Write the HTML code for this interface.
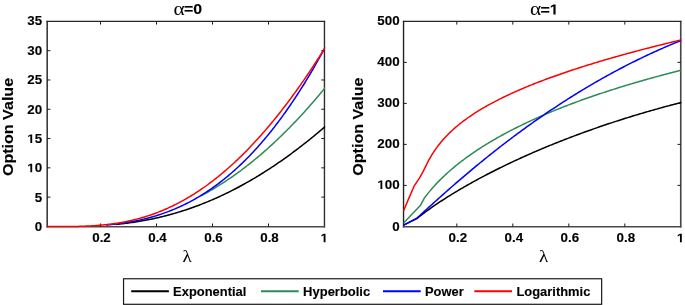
<!DOCTYPE html>
<html><head><meta charset="utf-8"><title>Option Value</title>
<style>
html,body{margin:0;padding:0;background:#fff;}
body{width:685px;height:305px;overflow:hidden;}
svg{display:block;will-change:transform;}
text{font-family:"Liberation Sans",sans-serif;font-weight:bold;fill:#000;stroke:#000;stroke-width:0.12px;}
.tk{font-size:12.5px;}
.tt{font-size:14.6px;}
.sym{font-family:"Liberation Serif",serif;font-weight:normal;font-size:18.5px;stroke:none;}
.xl{font-family:"Liberation Serif",serif;font-weight:normal;font-size:16.5px;stroke:none;}
.yl{font-size:14.5px;}
.lg{font-size:12.2px;}
</style></head><body>
<svg width="685" height="305" viewBox="0 0 685 305">
<rect width="685" height="305" fill="#fff"/>
<path d="M47.20,20.82 V227.49" stroke="#3b3b3b" stroke-width="1.61"/>
<path d="M324.46,20.82 V227.49" stroke="#2e2e2e" stroke-width="1.4"/>
<path d="M46.50,21.42 H325.16" stroke="#262626" stroke-width="1.32"/>
<path d="M46.50,226.69 H325.16" stroke="#4a4a4a" stroke-width="1.6"/>
<path d="M100.50,226.69 v-3.2 M100.50,21.42 v3.2" stroke="#1a1a1a" stroke-width="1"/>
<text transform="translate(101.50,242.30) scale(1.07,1)" text-anchor="middle" class="tk">0.2</text>
<path d="M156.50,226.69 v-3.2 M156.50,21.42 v3.2" stroke="#1a1a1a" stroke-width="1"/>
<text transform="translate(157.50,242.30) scale(1.07,1)" text-anchor="middle" class="tk">0.4</text>
<path d="M212.50,226.69 v-3.2 M212.50,21.42 v3.2" stroke="#1a1a1a" stroke-width="1"/>
<text transform="translate(213.50,242.30) scale(1.07,1)" text-anchor="middle" class="tk">0.6</text>
<path d="M268.50,226.69 v-3.2 M268.50,21.42 v3.2" stroke="#1a1a1a" stroke-width="1"/>
<text transform="translate(269.50,242.30) scale(1.07,1)" text-anchor="middle" class="tk">0.8</text>
<path d="M323.65,242.30 L323.65,235.16 L321.45,236.45 L321.45,235.10 L323.75,233.70 L325.49,233.70 L325.49,242.30Z" fill="#000"/>
<text transform="translate(42.10,230.85) scale(1.07,1)" text-anchor="end" class="tk">0</text>
<path d="M47.2,197.11 h3.2 M324.46,197.11 h-3.2" stroke="#1a1a1a" stroke-width="1"/>
<text transform="translate(42.10,201.56) scale(1.07,1)" text-anchor="end" class="tk">5</text>
<path d="M47.2,167.83 h3.2 M324.46,167.83 h-3.2" stroke="#1a1a1a" stroke-width="1"/>
<path d="M30.34,172.28 L30.34,165.14 L28.14,166.43 L28.14,165.08 L30.44,163.68 L32.18,163.68 L32.18,172.28Z" fill="#000"/>
<text transform="translate(34.66,172.28) scale(1.07,1)" text-anchor="start" class="tk">0</text>
<path d="M47.2,138.54 h3.2 M324.46,138.54 h-3.2" stroke="#1a1a1a" stroke-width="1"/>
<path d="M30.34,142.99 L30.34,135.85 L28.14,137.14 L28.14,135.79 L30.44,134.39 L32.18,134.39 L32.18,142.99Z" fill="#000"/>
<text transform="translate(34.66,142.99) scale(1.07,1)" text-anchor="start" class="tk">5</text>
<path d="M47.2,109.26 h3.2 M324.46,109.26 h-3.2" stroke="#1a1a1a" stroke-width="1"/>
<text transform="translate(42.10,113.71) scale(1.07,1)" text-anchor="end" class="tk">20</text>
<path d="M47.2,79.97 h3.2 M324.46,79.97 h-3.2" stroke="#1a1a1a" stroke-width="1"/>
<text transform="translate(42.10,84.42) scale(1.07,1)" text-anchor="end" class="tk">25</text>
<path d="M47.2,50.69 h3.2 M324.46,50.69 h-3.2" stroke="#1a1a1a" stroke-width="1"/>
<text transform="translate(42.10,55.14) scale(1.07,1)" text-anchor="end" class="tk">30</text>
<text transform="translate(42.10,25.05) scale(1.07,1)" text-anchor="end" class="tk">35</text>
<path d="M403.54,20.82 V227.49" stroke="#212121" stroke-width="1.38"/>
<path d="M680.74,20.82 V227.49" stroke="#454545" stroke-width="1.62"/>
<path d="M402.84,21.42 H681.44" stroke="#262626" stroke-width="1.32"/>
<path d="M402.84,226.69 H681.44" stroke="#4a4a4a" stroke-width="1.6"/>
<path d="M456.80,226.69 v-3.2 M456.80,21.42 v3.2" stroke="#1a1a1a" stroke-width="1"/>
<text transform="translate(457.80,242.30) scale(1.07,1)" text-anchor="middle" class="tk">0.2</text>
<path d="M512.80,226.69 v-3.2 M512.80,21.42 v3.2" stroke="#1a1a1a" stroke-width="1"/>
<text transform="translate(513.80,242.30) scale(1.07,1)" text-anchor="middle" class="tk">0.4</text>
<path d="M568.80,226.69 v-3.2 M568.80,21.42 v3.2" stroke="#1a1a1a" stroke-width="1"/>
<text transform="translate(569.80,242.30) scale(1.07,1)" text-anchor="middle" class="tk">0.6</text>
<path d="M624.80,226.69 v-3.2 M624.80,21.42 v3.2" stroke="#1a1a1a" stroke-width="1"/>
<text transform="translate(625.80,242.30) scale(1.07,1)" text-anchor="middle" class="tk">0.8</text>
<path d="M679.95,242.30 L679.95,235.16 L677.75,236.45 L677.75,235.10 L680.05,233.70 L681.79,233.70 L681.79,242.30Z" fill="#000"/>
<text transform="translate(399.65,230.85) scale(1.07,1)" text-anchor="end" class="tk">0</text>
<path d="M403.54,185.40 h3.2 M680.74,185.40 h-3.2" stroke="#1a1a1a" stroke-width="1"/>
<path d="M380.46,189.05 L380.46,181.91 L378.25,183.20 L378.25,181.85 L380.55,180.45 L382.29,180.45 L382.29,189.05Z" fill="#000"/>
<text transform="translate(384.77,189.05) scale(1.07,1)" text-anchor="start" class="tk">00</text>
<path d="M403.54,144.40 h3.2 M680.74,144.40 h-3.2" stroke="#1a1a1a" stroke-width="1"/>
<text transform="translate(399.65,148.05) scale(1.07,1)" text-anchor="end" class="tk">200</text>
<path d="M403.54,103.40 h3.2 M680.74,103.40 h-3.2" stroke="#1a1a1a" stroke-width="1"/>
<text transform="translate(399.65,107.05) scale(1.07,1)" text-anchor="end" class="tk">300</text>
<path d="M403.54,62.40 h3.2 M680.74,62.40 h-3.2" stroke="#1a1a1a" stroke-width="1"/>
<text transform="translate(399.65,66.05) scale(1.07,1)" text-anchor="end" class="tk">400</text>
<text transform="translate(399.65,24.85) scale(1.07,1)" text-anchor="end" class="tk">500</text>
<clipPath id="c1"><rect x="47.00" y="21.4" width="278.20" height="206.50"/></clipPath><clipPath id="c2"><rect x="403.30" y="21.4" width="278.20" height="206.50"/></clipPath><g clip-path="url(#c1)" fill="none" stroke-width="1.5" stroke-linejoin="round">
<path d="M115.76,224.43 L117.16,224.29 L118.56,224.15 L119.95,224.00 L121.35,223.84 L122.75,223.68 L124.15,223.52 L125.54,223.35 L126.94,223.17 L128.34,222.99 L129.73,222.80 L131.13,222.61 L132.53,222.41 L133.93,222.20 L135.32,221.99 L136.72,221.77 L138.12,221.54 L139.51,221.31 L140.91,221.08 L142.31,220.83 L143.71,220.58 L145.10,220.33 L146.50,220.06 L147.90,219.79 L149.29,219.52 L150.69,219.23 L152.09,218.95 L153.49,218.65 L154.88,218.35 L156.28,218.04 L157.68,217.72 L159.07,217.40 L160.47,217.07 L161.87,216.73 L163.27,216.39 L164.66,216.04 L166.06,215.68 L167.46,215.31 L168.86,214.94 L170.25,214.56 L171.65,214.18 L173.05,213.79 L174.44,213.39 L175.84,212.98 L177.24,212.56 L178.64,212.14 L180.03,211.71 L181.43,211.28 L182.83,210.84 L184.22,210.38 L185.62,209.93 L187.02,209.46 L188.42,208.99 L189.81,208.51 L191.21,208.02 L192.61,207.53 L194.00,207.03 L195.40,206.52 L196.80,206.00 L198.20,205.48 L199.59,204.95 L200.99,204.41 L202.39,203.86 L203.78,203.31 L205.18,202.75 L206.58,202.18 L207.98,201.60 L209.37,201.02 L210.77,200.43 L212.17,199.83 L213.57,199.22 L214.96,198.61 L216.36,197.99 L217.76,197.36 L219.15,196.72 L220.55,196.08 L221.95,195.43 L223.35,194.77 L224.74,194.10 L226.14,193.43 L227.54,192.75 L228.93,192.06 L230.33,191.36 L231.73,190.66 L233.13,189.95 L234.52,189.23 L235.92,188.50 L237.32,187.77 L238.71,187.02 L240.11,186.27 L241.51,185.52 L242.91,184.75 L244.30,183.98 L245.70,183.20 L247.10,182.41 L248.49,181.62 L249.89,180.82 L251.29,180.01 L252.69,179.19 L254.08,178.36 L255.48,177.53 L256.88,176.69 L258.28,175.84 L259.67,174.99 L261.07,174.13 L262.47,173.25 L263.86,172.38 L265.26,171.49 L266.66,170.60 L268.06,169.70 L269.45,168.79 L270.85,167.88 L272.25,166.95 L273.64,166.02 L275.04,165.09 L276.44,164.14 L277.84,163.19 L279.23,162.23 L280.63,161.26 L282.03,160.29 L283.42,159.30 L284.82,158.31 L286.22,157.32 L287.62,156.31 L289.01,155.30 L290.41,154.28 L291.81,153.26 L293.20,152.22 L294.60,151.18 L296.00,150.13 L297.40,149.08 L298.79,148.01 L300.19,146.94 L301.59,145.86 L302.99,144.78 L304.38,143.69 L305.78,142.59 L307.18,141.48 L308.57,140.37 L309.97,139.24 L311.37,138.12 L312.77,136.98 L314.16,135.84 L315.56,134.69 L316.96,133.53 L318.35,132.36 L319.75,131.19 L321.15,130.01 L322.55,128.83 L323.94,127.63 L325.34,126.43" stroke="#000000"/>
<path d="M200.99,195.84 L202.39,195.10 L203.78,194.34 L205.18,193.58 L206.58,192.80 L207.98,192.02 L209.37,191.22 L210.77,190.41 L212.17,189.60 L213.57,188.77 L214.96,187.93 L216.36,187.09 L217.76,186.23 L219.15,185.36 L220.55,184.48 L221.95,183.59 L223.35,182.69 L224.74,181.78 L226.14,180.86 L227.54,179.92 L228.93,178.98 L230.33,178.03 L231.73,177.06 L233.13,176.09 L234.52,175.10 L235.92,174.11 L237.32,173.10 L238.71,172.08 L240.11,171.05 L241.51,170.01 L242.91,168.96 L244.30,167.90 L245.70,166.83 L247.10,165.75 L248.49,164.65 L249.89,163.55 L251.29,162.43 L252.69,161.31 L254.08,160.17 L255.48,159.02 L256.88,157.86 L258.28,156.69 L259.67,155.51 L261.07,154.32 L262.47,153.11 L263.86,151.90 L265.26,150.67 L266.66,149.44 L268.06,148.19 L269.45,146.93 L270.85,145.66 L272.25,144.38 L273.64,143.09 L275.04,141.79 L276.44,140.48 L277.84,139.15 L279.23,137.82 L280.63,136.47 L282.03,135.11 L283.42,133.74 L284.82,132.36 L286.22,130.97 L287.62,129.57 L289.01,128.16 L290.41,126.73 L291.81,125.30 L293.20,123.85 L294.60,122.39 L296.00,120.93 L297.40,119.45 L298.79,117.95 L300.19,116.45 L301.59,114.94 L302.99,113.41 L304.38,111.88 L305.78,110.33 L307.18,108.77 L308.57,107.20 L309.97,105.62 L311.37,104.03 L312.77,102.43 L314.16,100.81 L315.56,99.19 L316.96,97.55 L318.35,95.90 L319.75,94.25 L321.15,92.58 L322.55,90.89 L323.94,89.20 L325.34,87.50" stroke="#2e8b57"/>
<path d="M105.98,225.03 L107.38,224.91 L108.78,224.78 L110.17,224.65 L111.57,224.51 L112.97,224.36 L114.36,224.21 L115.76,224.05 L117.16,223.88 L118.56,223.71 L119.95,223.52 L121.35,223.33 L122.75,223.13 L124.15,222.93 L125.54,222.72 L126.94,222.49 L128.34,222.26 L129.73,222.02 L131.13,221.78 L132.53,221.52 L133.93,221.26 L135.32,220.98 L136.72,220.70 L138.12,220.41 L139.51,220.11 L140.91,219.80 L142.31,219.47 L143.71,219.14 L145.10,218.80 L146.50,218.45 L147.90,218.09 L149.29,217.72 L150.69,217.34 L152.09,216.94 L153.49,216.54 L154.88,216.13 L156.28,215.70 L157.68,215.26 L159.07,214.82 L160.47,214.36 L161.87,213.89 L163.27,213.40 L164.66,212.91 L166.06,212.40 L167.46,211.88 L168.86,211.35 L170.25,210.81 L171.65,210.25 L173.05,209.68 L174.44,209.10 L175.84,208.51 L177.24,207.90 L178.64,207.28 L180.03,206.64 L181.43,206.00 L182.83,205.34 L184.22,204.66 L185.62,203.97 L187.02,203.27 L188.42,202.56 L189.81,201.83 L191.21,201.08 L192.61,200.32 L194.00,199.55 L195.40,198.76 L196.80,197.96 L198.20,197.14 L199.59,196.31 L200.99,195.46 L202.39,194.60 L203.78,193.72 L205.18,192.83 L206.58,191.92 L207.98,191.00 L209.37,190.06 L210.77,189.10 L212.17,188.13 L213.57,187.14 L214.96,186.14 L216.36,185.12 L217.76,184.08 L219.15,183.03 L220.55,181.96 L221.95,180.87 L223.35,179.77 L224.74,178.65 L226.14,177.51 L227.54,176.35 L228.93,175.18 L230.33,173.99 L231.73,172.79 L233.13,171.56 L234.52,170.32 L235.92,169.06 L237.32,167.78 L238.71,166.49 L240.11,165.17 L241.51,163.84 L242.91,162.49 L244.30,161.12 L245.70,159.73 L247.10,158.33 L248.49,156.90 L249.89,155.46 L251.29,154.00 L252.69,152.52 L254.08,151.02 L255.48,149.50 L256.88,147.96 L258.28,146.40 L259.67,144.82 L261.07,143.22 L262.47,141.61 L263.86,139.97 L265.26,138.31 L266.66,136.64 L268.06,134.94 L269.45,133.22 L270.85,131.49 L272.25,129.73 L273.64,127.95 L275.04,126.15 L276.44,124.33 L277.84,122.49 L279.23,120.63 L280.63,118.75 L282.03,116.85 L283.42,114.93 L284.82,112.98 L286.22,111.02 L287.62,109.03 L289.01,107.02 L290.41,104.99 L291.81,102.94 L293.20,100.87 L294.60,98.77 L296.00,96.65 L297.40,94.51 L298.79,92.35 L300.19,90.17 L301.59,87.96 L302.99,85.74 L304.38,83.49 L305.78,81.21 L307.18,78.92 L308.57,76.60 L309.97,74.26 L311.37,71.90 L312.77,69.51 L314.16,67.10 L315.56,64.67 L316.96,62.22 L318.35,59.74 L319.75,57.23 L321.15,54.71 L322.55,52.16 L323.94,49.59 L325.34,46.99" stroke="#0000ff"/>
<path d="M47.30,226.60 L48.70,226.60 L50.09,226.60 L51.49,226.60 L52.89,226.60 L54.29,226.60 L55.68,226.60 L57.08,226.60 L58.48,226.59 L59.87,226.59 L61.27,226.59 L62.67,226.58 L64.07,226.57 L65.46,226.57 L66.86,226.56 L68.26,226.54 L69.65,226.53 L71.05,226.51 L72.45,226.49 L73.85,226.47 L75.24,226.45 L76.64,226.42 L78.04,226.38 L79.44,226.35 L80.83,226.31 L82.23,226.26 L83.63,226.21 L85.02,226.16 L86.42,226.10 L87.82,226.04 L89.22,225.97 L90.61,225.90 L92.01,225.82 L93.41,225.73 L94.80,225.64 L96.20,225.54 L97.60,225.43 L99.00,225.32 L100.39,225.20 L101.79,225.08 L103.19,224.94 L104.58,224.80 L105.98,224.65 L107.38,224.50 L108.78,224.33 L110.17,224.16 L111.57,223.98 L112.97,223.79 L114.36,223.59 L115.76,223.39 L117.16,223.17 L118.56,222.94 L119.95,222.71 L121.35,222.47 L122.75,222.21 L124.15,221.95 L125.54,221.68 L126.94,221.39 L128.34,221.10 L129.73,220.80 L131.13,220.48 L132.53,220.16 L133.93,219.82 L135.32,219.48 L136.72,219.12 L138.12,218.76 L139.51,218.38 L140.91,217.99 L142.31,217.59 L143.71,217.17 L145.10,216.75 L146.50,216.31 L147.90,215.87 L149.29,215.41 L150.69,214.94 L152.09,214.45 L153.49,213.96 L154.88,213.45 L156.28,212.93 L157.68,212.40 L159.07,211.86 L160.47,211.30 L161.87,210.73 L163.27,210.15 L164.66,209.55 L166.06,208.95 L167.46,208.33 L168.86,207.69 L170.25,207.05 L171.65,206.39 L173.05,205.71 L174.44,205.03 L175.84,204.33 L177.24,203.62 L178.64,202.89 L180.03,202.15 L181.43,201.40 L182.83,200.63 L184.22,199.86 L185.62,199.06 L187.02,198.26 L188.42,197.44 L189.81,196.60 L191.21,195.75 L192.61,194.89 L194.00,194.02 L195.40,193.13 L196.80,192.22 L198.20,191.31 L199.59,190.37 L200.99,189.43 L202.39,188.47 L203.78,187.50 L205.18,186.51 L206.58,185.51 L207.98,184.49 L209.37,183.46 L210.77,182.41 L212.17,181.36 L213.57,180.28 L214.96,179.19 L216.36,178.09 L217.76,176.98 L219.15,175.84 L220.55,174.70 L221.95,173.54 L223.35,172.37 L224.74,171.18 L226.14,169.97 L227.54,168.76 L228.93,167.52 L230.33,166.28 L231.73,165.02 L233.13,163.74 L234.52,162.45 L235.92,161.15 L237.32,159.83 L238.71,158.49 L240.11,157.14 L241.51,155.78 L242.91,154.40 L244.30,153.01 L245.70,151.60 L247.10,150.18 L248.49,148.74 L249.89,147.29 L251.29,145.83 L252.69,144.35 L254.08,142.85 L255.48,141.34 L256.88,139.82 L258.28,138.28 L259.67,136.73 L261.07,135.16 L262.47,133.57 L263.86,131.98 L265.26,130.37 L266.66,128.74 L268.06,127.10 L269.45,125.44 L270.85,123.77 L272.25,122.09 L273.64,120.39 L275.04,118.67 L276.44,116.94 L277.84,115.20 L279.23,113.44 L280.63,111.67 L282.03,109.88 L283.42,108.08 L284.82,106.26 L286.22,104.43 L287.62,102.58 L289.01,100.72 L290.41,98.85 L291.81,96.96 L293.20,95.06 L294.60,93.14 L296.00,91.21 L297.40,89.26 L298.79,87.30 L300.19,85.32 L301.59,83.33 L302.99,81.33 L304.38,79.31 L305.78,77.27 L307.18,75.23 L308.57,73.16 L309.97,71.09 L311.37,69.00 L312.77,66.89 L314.16,64.77 L315.56,62.64 L316.96,60.49 L318.35,58.33 L319.75,56.15 L321.15,53.96 L322.55,51.76 L323.94,49.54 L325.34,47.31" stroke="#ff0000"/>
</g>
<g clip-path="url(#c2)" fill="none" stroke-width="1.5" stroke-linejoin="round">
<path d="M403.60,225.20 L416.90,218.60 L418.38,217.40 L419.86,216.23 L421.34,215.08 L422.82,213.95 L424.29,212.83 L425.77,211.74 L427.25,210.65 L428.73,209.58 L430.21,208.53 L431.69,207.48 L433.17,206.45 L434.65,205.43 L436.13,204.43 L437.61,203.43 L439.08,202.44 L440.56,201.46 L442.04,200.50 L443.52,199.54 L445.00,198.59 L446.48,197.65 L447.96,196.71 L449.44,195.79 L450.92,194.87 L452.40,193.96 L453.87,193.06 L455.35,192.16 L456.83,191.27 L458.31,190.39 L459.79,189.52 L461.27,188.65 L462.75,187.79 L464.23,186.93 L465.71,186.08 L467.19,185.24 L468.66,184.40 L470.14,183.57 L471.62,182.75 L473.10,181.93 L474.58,181.11 L476.06,180.30 L477.54,179.50 L479.02,178.70 L480.50,177.91 L481.98,177.12 L483.45,176.33 L484.93,175.55 L486.41,174.78 L487.89,174.01 L489.37,173.25 L490.85,172.49 L492.33,171.73 L493.81,170.98 L495.29,170.24 L496.77,169.50 L498.24,168.76 L499.72,168.03 L501.20,167.30 L502.68,166.58 L504.16,165.86 L505.64,165.14 L507.12,164.43 L508.60,163.72 L510.08,163.02 L511.56,162.32 L513.03,161.63 L514.51,160.93 L515.99,160.25 L517.47,159.56 L518.95,158.88 L520.43,158.21 L521.91,157.54 L523.39,156.87 L524.87,156.20 L526.35,155.54 L527.82,154.88 L529.30,154.23 L530.78,153.58 L532.26,152.93 L533.74,152.29 L535.22,151.65 L536.70,151.01 L538.18,150.38 L539.66,149.75 L541.14,149.12 L542.61,148.50 L544.09,147.88 L545.57,147.26 L547.05,146.65 L548.53,146.04 L550.01,145.43 L551.49,144.83 L552.97,144.23 L554.45,143.63 L555.93,143.04 L557.40,142.44 L558.88,141.86 L560.36,141.27 L561.84,140.69 L563.32,140.11 L564.80,139.53 L566.28,138.96 L567.76,138.39 L569.24,137.83 L570.72,137.26 L572.19,136.70 L573.67,136.14 L575.15,135.59 L576.63,135.03 L578.11,134.49 L579.59,133.94 L581.07,133.39 L582.55,132.85 L584.03,132.32 L585.51,131.78 L586.98,131.25 L588.46,130.72 L589.94,130.19 L591.42,129.67 L592.90,129.14 L594.38,128.62 L595.86,128.11 L597.34,127.59 L598.82,127.08 L600.30,126.58 L601.77,126.07 L603.25,125.57 L604.73,125.07 L606.21,124.57 L607.69,124.07 L609.17,123.58 L610.65,123.09 L612.13,122.60 L613.61,122.12 L615.09,121.63 L616.56,121.15 L618.04,120.68 L619.52,120.20 L621.00,119.73 L622.48,119.26 L623.96,118.79 L625.44,118.33 L626.92,117.86 L628.40,117.40 L629.88,116.94 L631.35,116.49 L632.83,116.04 L634.31,115.58 L635.79,115.14 L637.27,114.69 L638.75,114.25 L640.23,113.81 L641.71,113.37 L643.19,112.93 L644.67,112.50 L646.14,112.06 L647.62,111.63 L649.10,111.21 L650.58,110.78 L652.06,110.36 L653.54,109.94 L655.02,109.52 L656.50,109.10 L657.98,108.69 L659.46,108.28 L660.93,107.87 L662.41,107.46 L663.89,107.06 L665.37,106.65 L666.85,106.25 L668.33,105.85 L669.81,105.46 L671.29,105.06 L672.77,104.67 L674.25,104.28 L675.72,103.90 L677.20,103.51 L678.68,103.13 L680.16,102.75 L681.64,102.37" stroke="#000000"/>
<path d="M403.60,222.99 L420.29,205.59 L424.29,198.16 L425.73,196.25 L427.17,194.39 L428.61,192.60 L430.04,190.86 L431.48,189.17 L432.92,187.53 L434.36,185.93 L435.79,184.37 L437.23,182.84 L438.67,181.36 L440.11,179.90 L441.54,178.48 L442.98,177.09 L444.42,175.72 L445.86,174.39 L447.30,173.07 L448.73,171.79 L450.17,170.52 L451.61,169.28 L453.05,168.06 L454.48,166.87 L455.92,165.69 L457.36,164.53 L458.80,163.38 L460.23,162.26 L461.67,161.15 L463.11,160.06 L464.55,158.99 L465.99,157.93 L467.42,156.88 L468.86,155.85 L470.30,154.83 L471.74,153.83 L473.17,152.84 L474.61,151.86 L476.05,150.89 L477.49,149.94 L478.92,149.00 L480.36,148.07 L481.80,147.15 L483.24,146.24 L484.68,145.34 L486.11,144.45 L487.55,143.57 L488.99,142.70 L490.43,141.84 L491.86,140.99 L493.30,140.15 L494.74,139.31 L496.18,138.49 L497.61,137.67 L499.05,136.86 L500.49,136.06 L501.93,135.27 L503.37,134.48 L504.80,133.70 L506.24,132.93 L507.68,132.17 L509.12,131.41 L510.55,130.66 L511.99,129.92 L513.43,129.19 L514.87,128.46 L516.30,127.73 L517.74,127.02 L519.18,126.30 L520.62,125.60 L522.06,124.90 L523.49,124.21 L524.93,123.52 L526.37,122.84 L527.81,122.16 L529.24,121.49 L530.68,120.83 L532.12,120.17 L533.56,119.51 L534.99,118.86 L536.43,118.21 L537.87,117.57 L539.31,116.94 L540.75,116.31 L542.18,115.68 L543.62,115.06 L545.06,114.44 L546.50,113.83 L547.93,113.22 L549.37,112.62 L550.81,112.02 L552.25,111.43 L553.68,110.83 L555.12,110.25 L556.56,109.66 L558.00,109.09 L559.44,108.51 L560.87,107.94 L562.31,107.37 L563.75,106.81 L565.19,106.25 L566.62,105.69 L568.06,105.14 L569.50,104.59 L570.94,104.05 L572.37,103.50 L573.81,102.97 L575.25,102.43 L576.69,101.90 L578.13,101.37 L579.56,100.85 L581.00,100.32 L582.44,99.81 L583.88,99.29 L585.31,98.78 L586.75,98.27 L588.19,97.76 L589.63,97.26 L591.07,96.76 L592.50,96.26 L593.94,95.77 L595.38,95.28 L596.82,94.79 L598.25,94.30 L599.69,93.82 L601.13,93.34 L602.57,92.86 L604.00,92.39 L605.44,91.92 L606.88,91.45 L608.32,90.98 L609.76,90.52 L611.19,90.05 L612.63,89.60 L614.07,89.14 L615.51,88.68 L616.94,88.23 L618.38,87.78 L619.82,87.34 L621.26,86.89 L622.69,86.45 L624.13,86.01 L625.57,85.57 L627.01,85.14 L628.45,84.71 L629.88,84.28 L631.32,83.85 L632.76,83.42 L634.20,83.00 L635.63,82.58 L637.07,82.16 L638.51,81.74 L639.95,81.32 L641.38,80.91 L642.82,80.50 L644.26,80.09 L645.70,79.68 L647.14,79.28 L648.57,78.88 L650.01,78.48 L651.45,78.08 L652.89,77.68 L654.32,77.28 L655.76,76.89 L657.20,76.50 L658.64,76.11 L660.07,75.72 L661.51,75.34 L662.95,74.95 L664.39,74.57 L665.83,74.19 L667.26,73.81 L668.70,73.44 L670.14,73.06 L671.58,72.69 L673.01,72.32 L674.45,71.95 L675.89,71.58 L677.33,71.21 L678.76,70.85 L680.20,70.49 L681.64,70.12" stroke="#2e8b57"/>
<path d="M403.60,225.20 L416.90,218.10 L418.38,216.78 L419.86,215.44 L421.34,214.10 L422.82,212.76 L424.29,211.42 L425.77,210.08 L427.25,208.74 L428.73,207.40 L430.21,206.06 L431.69,204.72 L433.17,203.38 L434.65,202.05 L436.13,200.71 L437.61,199.38 L439.08,198.06 L440.56,196.73 L442.04,195.41 L443.52,194.09 L445.00,192.78 L446.48,191.47 L447.96,190.16 L449.44,188.86 L450.92,187.56 L452.40,186.27 L453.87,184.98 L455.35,183.69 L456.83,182.41 L458.31,181.14 L459.79,179.86 L461.27,178.59 L462.75,177.33 L464.23,176.07 L465.71,174.81 L467.19,173.56 L468.66,172.32 L470.14,171.07 L471.62,169.84 L473.10,168.60 L474.58,167.38 L476.06,166.15 L477.54,164.93 L479.02,163.72 L480.50,162.51 L481.98,161.30 L483.45,160.10 L484.93,158.90 L486.41,157.71 L487.89,156.52 L489.37,155.34 L490.85,154.16 L492.33,152.98 L493.81,151.81 L495.29,150.65 L496.77,149.49 L498.24,148.33 L499.72,147.18 L501.20,146.03 L502.68,144.89 L504.16,143.75 L505.64,142.62 L507.12,141.49 L508.60,140.37 L510.08,139.25 L511.56,138.13 L513.03,137.02 L514.51,135.91 L515.99,134.81 L517.47,133.72 L518.95,132.62 L520.43,131.53 L521.91,130.45 L523.39,129.37 L524.87,128.30 L526.35,127.23 L527.82,126.16 L529.30,125.10 L530.78,124.05 L532.26,123.00 L533.74,121.95 L535.22,120.91 L536.70,119.87 L538.18,118.84 L539.66,117.81 L541.14,116.78 L542.61,115.76 L544.09,114.75 L545.57,113.74 L547.05,112.73 L548.53,111.73 L550.01,110.73 L551.49,109.74 L552.97,108.76 L554.45,107.77 L555.93,106.79 L557.40,105.82 L558.88,104.85 L560.36,103.89 L561.84,102.93 L563.32,101.97 L564.80,101.02 L566.28,100.07 L567.76,99.13 L569.24,98.19 L570.72,97.26 L572.19,96.33 L573.67,95.41 L575.15,94.49 L576.63,93.57 L578.11,92.66 L579.59,91.76 L581.07,90.86 L582.55,89.96 L584.03,89.07 L585.51,88.18 L586.98,87.30 L588.46,86.42 L589.94,85.55 L591.42,84.68 L592.90,83.81 L594.38,82.95 L595.86,82.10 L597.34,81.25 L598.82,80.40 L600.30,79.56 L601.77,78.72 L603.25,77.89 L604.73,77.06 L606.21,76.24 L607.69,75.42 L609.17,74.60 L610.65,73.79 L612.13,72.99 L613.61,72.19 L615.09,71.39 L616.56,70.60 L618.04,69.81 L619.52,69.03 L621.00,68.25 L622.48,67.48 L623.96,66.71 L625.44,65.95 L626.92,65.19 L628.40,64.43 L629.88,63.68 L631.35,62.94 L632.83,62.19 L634.31,61.46 L635.79,60.72 L637.27,60.00 L638.75,59.27 L640.23,58.56 L641.71,57.84 L643.19,57.13 L644.67,56.43 L646.14,55.73 L647.62,55.03 L649.10,54.34 L650.58,53.65 L652.06,52.97 L653.54,52.29 L655.02,51.62 L656.50,50.95 L657.98,50.29 L659.46,49.63 L660.93,48.97 L662.41,48.32 L663.89,47.68 L665.37,47.04 L666.85,46.40 L668.33,45.77 L669.81,45.14 L671.29,44.52 L672.77,43.90 L674.25,43.28 L675.72,42.68 L677.20,42.07 L678.68,41.47 L680.16,40.87 L681.64,40.28" stroke="#0000ff"/>
<path d="M403.60,210.80 L408.89,198.16 L414.41,185.56 L419.39,178.05 L422.81,172.14 L425.80,166.15 L427.23,163.21 L428.66,160.46 L430.09,157.88 L431.52,155.45 L432.95,153.15 L434.38,150.97 L435.81,148.90 L437.24,146.93 L438.67,145.04 L440.10,143.24 L441.53,141.51 L442.96,139.85 L444.38,138.25 L445.81,136.70 L447.24,135.21 L448.67,133.77 L450.10,132.37 L451.53,131.02 L452.96,129.70 L454.39,128.42 L455.82,127.18 L457.25,125.97 L458.68,124.79 L460.11,123.64 L461.54,122.51 L462.96,121.42 L464.39,120.34 L465.82,119.29 L467.25,118.26 L468.68,117.25 L470.11,116.27 L471.54,115.30 L472.97,114.35 L474.40,113.41 L475.83,112.49 L477.26,111.59 L478.69,110.70 L480.12,109.83 L481.54,108.97 L482.97,108.13 L484.40,107.30 L485.83,106.48 L487.26,105.67 L488.69,104.87 L490.12,104.09 L491.55,103.31 L492.98,102.55 L494.41,101.79 L495.84,101.05 L497.27,100.31 L498.70,99.58 L500.13,98.87 L501.55,98.16 L502.98,97.46 L504.41,96.76 L505.84,96.08 L507.27,95.40 L508.70,94.73 L510.13,94.06 L511.56,93.41 L512.99,92.76 L514.42,92.11 L515.85,91.47 L517.28,90.84 L518.71,90.22 L520.13,89.60 L521.56,88.99 L522.99,88.38 L524.42,87.77 L525.85,87.18 L527.28,86.59 L528.71,86.00 L530.14,85.42 L531.57,84.84 L533.00,84.27 L534.43,83.70 L535.86,83.14 L537.29,82.58 L538.71,82.02 L540.14,81.47 L541.57,80.93 L543.00,80.38 L544.43,79.85 L545.86,79.31 L547.29,78.78 L548.72,78.26 L550.15,77.73 L551.58,77.21 L553.01,76.70 L554.44,76.19 L555.87,75.68 L557.30,75.17 L558.72,74.67 L560.15,74.17 L561.58,73.68 L563.01,73.18 L564.44,72.70 L565.87,72.21 L567.30,71.73 L568.73,71.25 L570.16,70.77 L571.59,70.29 L573.02,69.82 L574.45,69.35 L575.88,68.89 L577.30,68.42 L578.73,67.96 L580.16,67.50 L581.59,67.05 L583.02,66.59 L584.45,66.14 L585.88,65.69 L587.31,65.25 L588.74,64.80 L590.17,64.36 L591.60,63.92 L593.03,63.48 L594.46,63.05 L595.88,62.61 L597.31,62.18 L598.74,61.76 L600.17,61.33 L601.60,60.90 L603.03,60.48 L604.46,60.06 L605.89,59.64 L607.32,59.23 L608.75,58.81 L610.18,58.40 L611.61,57.99 L613.04,57.58 L614.47,57.17 L615.89,56.77 L617.32,56.37 L618.75,55.96 L620.18,55.56 L621.61,55.17 L623.04,54.77 L624.47,54.37 L625.90,53.98 L627.33,53.59 L628.76,53.20 L630.19,52.81 L631.62,52.43 L633.05,52.04 L634.47,51.66 L635.90,51.28 L637.33,50.89 L638.76,50.52 L640.19,50.14 L641.62,49.76 L643.05,49.39 L644.48,49.01 L645.91,48.64 L647.34,48.27 L648.77,47.90 L650.20,47.54 L651.63,47.17 L653.05,46.81 L654.48,46.44 L655.91,46.08 L657.34,45.72 L658.77,45.36 L660.20,45.00 L661.63,44.65 L663.06,44.29 L664.49,43.94 L665.92,43.58 L667.35,43.23 L668.78,42.88 L670.21,42.53 L671.64,42.18 L673.06,41.83 L674.49,41.49 L675.92,41.14 L677.35,40.80 L678.78,40.46 L680.21,40.12 L681.64,39.78" stroke="#ff0000"/>
</g>
<text transform="translate(173.60,15.10) scale(1.15,1)" text-anchor="start" class="sym">α</text>
<text transform="translate(183.90,14.20) scale(1.09,1)" text-anchor="start" class="tt">=0</text>
<text transform="translate(530.10,15.40) scale(1.15,1)" text-anchor="start" class="sym">α</text>
<text transform="translate(540.40,14.50) scale(1.09,1)" text-anchor="start" class="tt">=</text>
<path d="M553.41,14.50 L553.41,6.16 L550.78,7.66 L550.78,6.09 L553.52,4.46 L555.59,4.46 L555.59,14.50Z" fill="#000"/>
<text transform="translate(187.00,261.50) scale(1.15,1)" text-anchor="middle" class="xl">λ</text>
<text transform="translate(543.50,261.50) scale(1.15,1)" text-anchor="middle" class="xl">λ</text>
<text transform="translate(13.30,127.00) rotate(-90) scale(1.11,1)" text-anchor="middle" class="yl">Option Value</text>
<text transform="translate(363.40,126.60) rotate(-90) scale(1.11,1)" text-anchor="middle" class="yl">Option Value</text>
<rect x="123.55" y="278.75" width="478.1" height="25.55" fill="#fff" stroke="#1a1a1a" stroke-width="1.2"/>
<path d="M131.2,291.25 H168.9" stroke="#000000" stroke-width="2"/>
<text transform="translate(173.10,296.00) scale(1.06,1)" text-anchor="start" class="lg">Exponential</text>
<path d="M261.0,291.25 H298.7" stroke="#2e8b57" stroke-width="2"/>
<text transform="translate(303.10,296.00) scale(1.065,1)" text-anchor="start" class="lg">Hyperbolic</text>
<path d="M383.0,291.25 H420.7" stroke="#0000ff" stroke-width="2"/>
<text transform="translate(424.90,296.00) scale(1.06,1)" text-anchor="start" class="lg">Power</text>
<path d="M474.3,291.25 H512.0" stroke="#ff0000" stroke-width="2"/>
<text transform="translate(516.40,296.00) scale(1.06,1)" text-anchor="start" class="lg">Logarithmic</text>

</svg>
</body></html>
